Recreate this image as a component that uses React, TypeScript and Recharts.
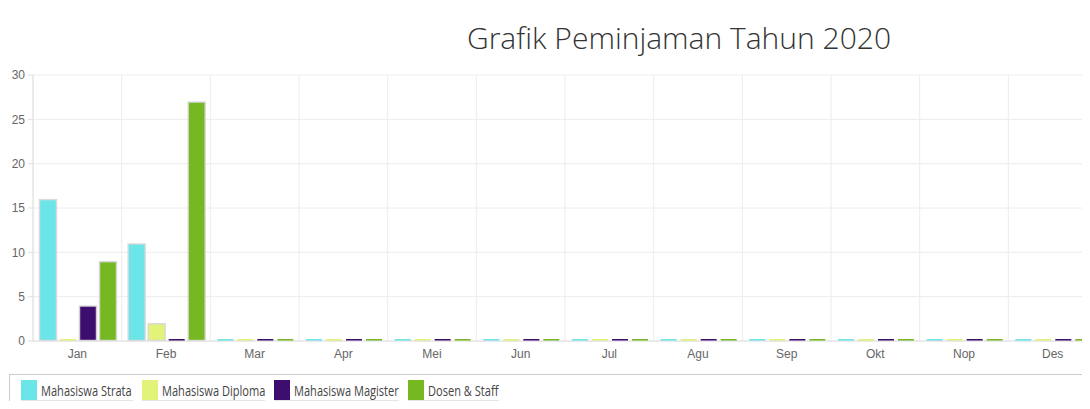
import { BarChart, Bar, XAxis, YAxis, CartesianGrid } from 'recharts';

const months = ['Jan', 'Feb', 'Mar', 'Apr', 'Mei', 'Jun', 'Jul', 'Agu', 'Sep', 'Okt', 'Nop', 'Des'];
const strata = [16, 11, 0, 0, 0, 0, 0, 0, 0, 0, 0, 0];
const diploma = [0, 2, 0, 0, 0, 0, 0, 0, 0, 0, 0, 0];
const magister = [4, 0, 0, 0, 0, 0, 0, 0, 0, 0, 0, 0];
const dosen = [9, 27, 0, 0, 0, 0, 0, 0, 0, 0, 0, 0];
const yTicks = [0, 5, 10, 15, 20, 25, 30];

const series = [
  { key: 'strata', name: 'Mahasiswa Strata', color: '#6ce5e8' },
  { key: 'diploma', name: 'Mahasiswa Diploma', color: '#e3f279' },
  { key: 'magister', name: 'Mahasiswa Magister', color: '#3d0e6e' },
  { key: 'dosen', name: 'Dosen & Staff', color: '#76b821' },
];

// legend item widths (swatch + label), the labels are drawn narrow
const legendWidths = [121, 132, 134, 100];

const data = months.map((m, i) => ({
  month: m,
  strata: strata[i],
  diploma: diploma[i],
  magister: magister[i],
  dosen: dosen[i],
}));

// chart.js style: zero values still show a thin line at the baseline
const BarShape = (props: any) => {
  const { x, y, width, height, fill } = props;
  if (!height || height < 1) {
    return <rect x={x + 1} y={y - 2} width={width - 2} height={2} fill={fill} />;
  }
  return (
    <rect x={x + 0.5} y={y + 0.5} width={width - 1} height={height - 1} fill={fill} stroke="rgba(215,215,215,0.9)" strokeWidth={1.5} />
  );
};

export default function App() {
  return (
    <div style={{ margin: -8, width: 1090, height: 409, overflow: 'hidden', position: 'relative', background: '#fff', fontFamily: '"Liberation Sans", Arial, sans-serif' }}>
      <div style={{ position: 'absolute', top: 16, left: 0, width: 1358, textAlign: 'center', fontFamily: '"Open Sans", sans-serif', fontWeight: 300, fontSize: 30, color: '#333', lineHeight: '44px' }}>
        Grafik Peminjaman Tahun 2020
      </div>
      <div style={{ position: 'absolute', top: 0, left: 0 }}>
        <BarChart width={1100} height={370} data={data} margin={{ top: 75, right: 3, left: 0, bottom: 9 }} barCategoryGap={6} barGap={2}>
          <CartesianGrid
            stroke="#ececec"
            verticalCoordinatesGenerator={({ offset }: any) =>
              months.map((_, i) => offset.left + (i * offset.width) / months.length)
            }
          />
          <XAxis dataKey="month" axisLine={{ stroke: '#e0e0e0' }} tickLine={false} height={20} tick={{ fill: '#666', fontSize: 12 }} interval={0} />
          <YAxis
            width={33}
            domain={[0, 30]}
            ticks={yTicks}
            axisLine={{ stroke: '#e0e0e0' }}
            tickLine={{ stroke: '#e0e0e0' }}
            tickSize={5}
            tickMargin={3}
            tick={{ fill: '#666', fontSize: 12 }}
          />
          {series.map((s) => (
            <Bar key={s.key} dataKey={s.key} name={s.name} fill={s.color} shape={<BarShape />} isAnimationActive={false} />
          ))}
        </BarChart>
      </div>
      <div style={{ position: 'absolute', left: 9, top: 374, width: 1100, height: 33, border: '1px solid #ccc', boxSizing: 'border-box', display: 'flex', alignItems: 'center', paddingLeft: 11 }}>
        {series.map((s, i) => (
          <div key={s.key} style={{ width: legendWidths[i], display: 'flex', alignItems: 'center' }}>
            <div style={{ display: 'flex', alignItems: 'center', borderBottom: '1px solid #e6e6e6', height: 20, width: legendWidths[i] - 9 }}>
              <div style={{ width: 16, height: 20, background: s.color, marginRight: 4, flex: 'none' }} />
              <span style={{ fontFamily: '"Open Sans", sans-serif', fontSize: 14, color: '#444', whiteSpace: 'nowrap', display: 'inline-block', transform: 'scaleX(0.79)', transformOrigin: 'left center' }}>{s.name}</span>
            </div>
          </div>
        ))}
      </div>
    </div>
  );
}
